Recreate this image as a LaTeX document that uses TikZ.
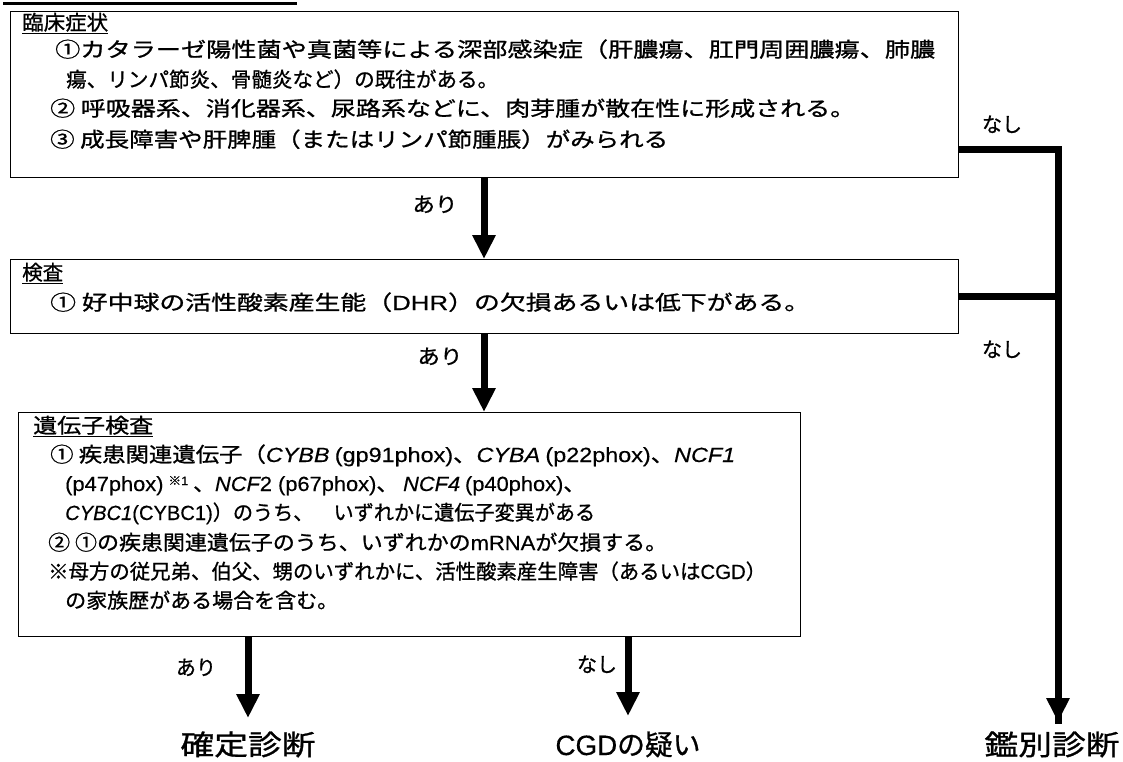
\documentclass[tikz,border=0pt]{standalone}
\usepackage{fontspec}
\setmainfont{Noto Sans CJK JP}[FakeBold=0.9]
\newfontfamily\lat{Liberation Sans}[FakeBold=0.4]
\usetikzlibrary{arrows.meta,calc}
\newcommand{\gi}[1]{{\lat\itshape #1}}
\newcommand{\la}[1]{{\lat #1}}
\newsavebox\fitbox
\newcommand{\fitw}[2]{\sbox\fitbox{#2}\scalebox{\fpeval{#1/\the\wd\fitbox}}[1]{\usebox\fitbox}}
\tikzset{
  box/.style={draw, line width=1.3pt, anchor=north west, inner sep=0pt},
  txt/.style={anchor=base west, inner sep=0pt, font=\fontsize{20.5}{20.5}\selectfont},
  lbl/.style={anchor=base, inner sep=0pt, font=\fontsize{20.5}{20.5}\selectfont},
  big/.style={anchor=base, inner sep=0pt, font=\fontsize{28}{28}\selectfont},
  conn/.style={line width=7pt, line join=miter},
  arr/.style={line width=7pt, -{Triangle[length=24pt,width=22pt]}},
}
\begin{document}
\begin{tikzpicture}[x=1pt,y=-1pt]
\useasboundingbox[fill=white] (0,0) rectangle (1123,762);
% cut-off heading underline
\draw[line width=3pt] (3,4) -- (297,4);
% boxes
\node[box, minimum width=948pt, minimum height=166pt] (b1) at (10,11) {};
\node[box, minimum width=948pt, minimum height=74pt] (b2) at (10,259) {};
\node[box, minimum width=782pt, minimum height=224pt] (b3) at (18,412) {};
% box 1 text
\node[txt] (t10) at (22,30) {\fitw{86}{\underline{臨床症状}}};
\node[txt] (t11) at (55,57) {\fitw{880}{①カタラーゼ陽性菌や真菌等による深部感染症（肝膿瘍、肛門周囲膿瘍、肺膿}};
\node[txt] (t12) at (66,87) {\fitw{432}{瘍、リンパ節炎、骨髄炎など）の既往がある。}};
\node[txt] (t13) at (50,116) {\fitw{805}{② 呼吸器系、消化器系、尿路系などに、肉芽腫が散在性に形成される。}};
\node[txt] (t14) at (50,147) {\fitw{618}{③ 成長障害や肝脾腫（またはリンパ節腫脹）がみられる}};
% box 2 text
\node[txt] (t20) at (22,280) {\fitw{41}{\underline{検査}}};
\node[txt] (t21) at (50,310) {\fitw{760}{① 好中球の活性酸素産生能（\la{DHR}）の欠損あるいは低下がある。}};
% box 3 text
\node[txt] (t30) at (33,433) {\fitw{120}{\underline{遺伝子検査}}};
\node[txt] (t31) at (50,462) {\fitw{685}{① 疾患関連遺伝子（\gi{CYBB} \la{(gp91phox)}、\gi{CYBA} \la{(p22phox)}、\gi{NCF1}}};
\node[txt] (t32) at (65,491) {\fitw{520}{\la{(p47phox)} \raisebox{6pt}{\fontsize{12}{12}\selectfont ※\la{1}} 、\gi{NCF}\la{2 (p67phox)}、 \gi{NCF4} \la{(p40phox)}、}};
\node[txt] (t33) at (65,520) {\fitw{530}{\gi{CYBC1}\la{(CYBC1)}）のうち、　いずれかに遺伝子変異がある}};
\node[txt] (t34) at (48,550) {\fitw{619}{② ①の疾患関連遺伝子のうち、いずれかの\la{mRNA}が欠損する。}};
\node[txt] (t35) at (48,579) {\fitw{718}{※母方の従兄弟、伯父、甥のいずれかに、活性酸素産生障害（あるいは\la{CGD}）}};
\node[txt] (t36) at (65,608) {\fitw{273}{の家族歴がある場合を含む。}};
% end nodes
\node[big] (d1) at (248,755) {\fitw{135}{確定診断}};
\node[big] (d2) at (628,755) {\fitw{145}{\la{CGD}の疑い}};
\node[big] (d3) at (1052,755) {\fitw{135}{鑑別診断}};
\coordinate (e1) at (248,718);
\coordinate (e2) at (628,716);
\coordinate (e3) at (1058,722);
\coordinate (rc) at (1058,150);
\coordinate (ax) at (484,0);
% connectors
\draw[arr] (b1.south -| ax) -- (b2.north -| ax);
\draw[arr] (b2.south -| ax) -- (b3.north -| ax);
\draw[arr] (b3.south -| e1) -- (e1);
\draw[arr] (b3.south -| e2) -- (e2);
\draw[conn] (b1.east |- rc) -- (rc) -- ([yshift=-2pt]e3);
\draw[arr] (rc) -- (e3);
\draw[conn] (b2.east) -- (b2.east -| rc);
% labels
\node[lbl] (a1) at (435,212) {\fitw{45}{あり}};
\node[lbl] (a2) at (440,364) {\fitw{45}{あり}};
\node[lbl] (a3) at (196,675) {\fitw{40}{あり}};
\node[lbl] (n3) at (597,672) {\fitw{40}{なし}};
\node[lbl] (n1) at (1002,132) {\fitw{40}{なし}};
\node[lbl] (n2) at (1002,357) {\fitw{40}{なし}};
\end{tikzpicture}
\end{document}
